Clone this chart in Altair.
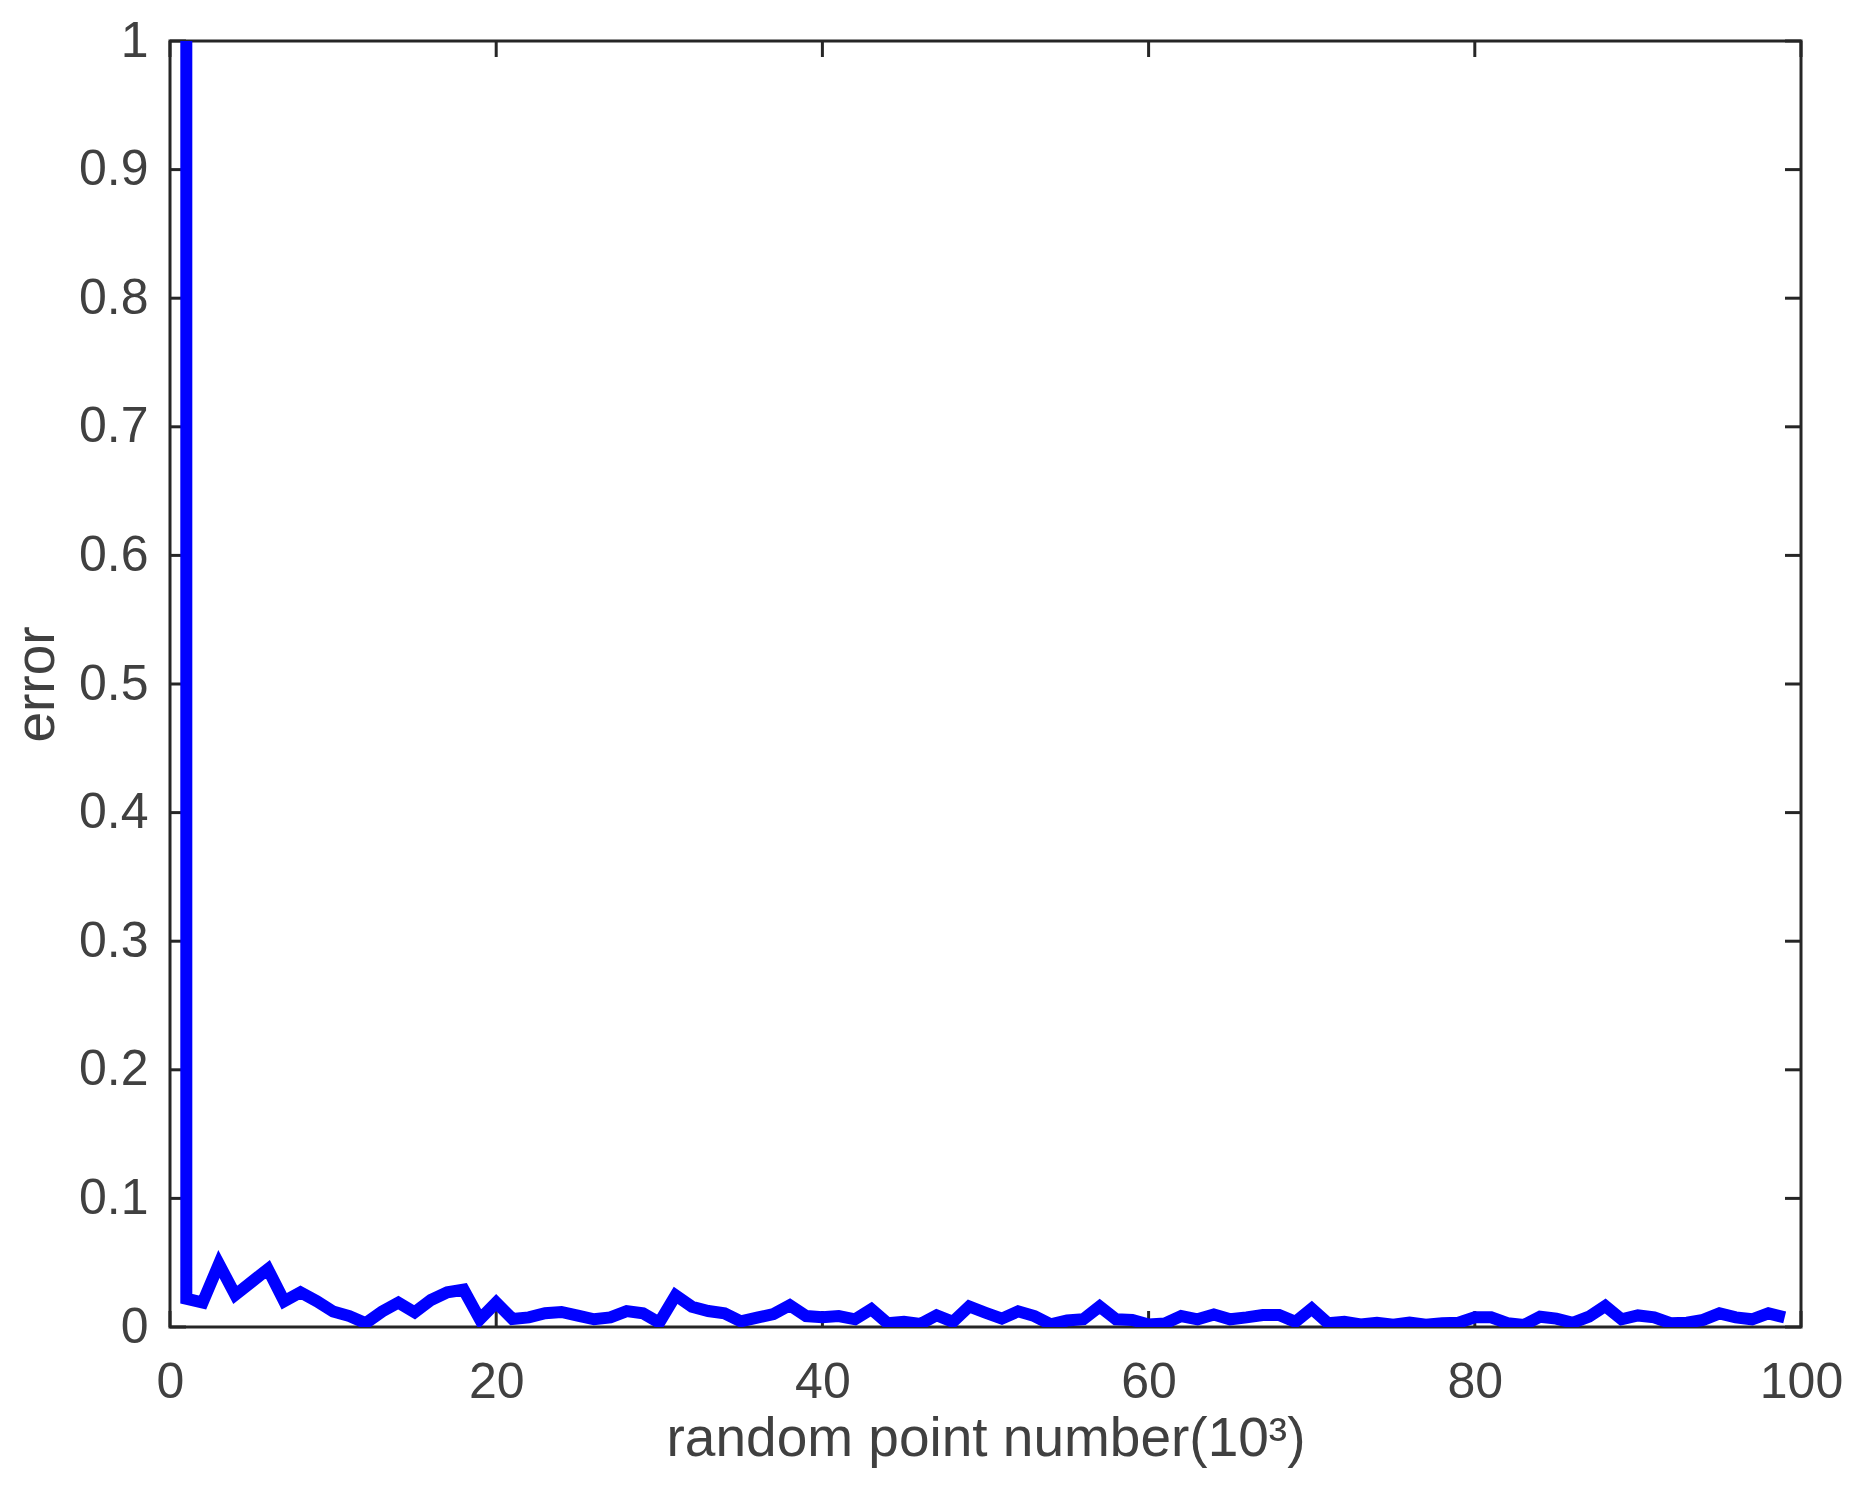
import altair as alt
import pandas as pd

# ---- data ----
x_points = [1, 1] + list(range(2, 100))
errors = [
    1.5,
    0.022, 0.019, 0.049, 0.025, 0.035, 0.045, 0.020, 0.027, 0.020, 0.012,
    0.0085, 0.003, 0.012, 0.019, 0.0114, 0.021, 0.027, 0.029, 0.006, 0.019,
    0.0062, 0.0075, 0.0107, 0.0117, 0.0088, 0.006, 0.0075, 0.0124, 0.0106, 0.0034,
    0.0246, 0.0158, 0.0124, 0.0106, 0.0044, 0.0073, 0.0101, 0.0169, 0.0085, 0.0075,
    0.0085, 0.006, 0.0138, 0.0029, 0.0041, 0.0023, 0.0091, 0.004, 0.016, 0.0111,
    0.0065, 0.0122, 0.0085, 0.002, 0.005, 0.006, 0.016, 0.006, 0.0055, 0.002,
    0.0028, 0.0085, 0.006, 0.0098, 0.006, 0.0075, 0.0093, 0.0093, 0.004, 0.0143,
    0.003, 0.004, 0.002, 0.0032, 0.0018, 0.0034, 0.0018, 0.003, 0.0033, 0.0075,
    0.0075, 0.003, 0.0015, 0.008, 0.0065, 0.0033, 0.008, 0.0163, 0.006, 0.009,
    0.0075, 0.003, 0.0034, 0.0055, 0.0106, 0.0075, 0.006, 0.0106, 0.0075,
]
x_ticks = [0, 20, 40, 60, 80, 100]
y_ticks = [0, 0.1, 0.2, 0.3, 0.4, 0.5, 0.6, 0.7, 0.8, 0.9, 1.0]

df = pd.DataFrame({"i": list(range(len(errors))), "x": x_points, "err": errors})
xt = pd.DataFrame({"x": x_ticks})
yt = pd.DataFrame({"err": y_ticks})

W, H, L = 1631, 1286, 16
AX = "#262626"
TXT = "#404040"
FONT = "Liberation Sans"

xscale = alt.Scale(domain=[0, 100], nice=False, zero=False)
yscale = alt.Scale(domain=[0, 1], nice=False)

xaxis = alt.Axis(values=x_ticks, title="random point number(10³)", domain=False, ticks=False,
                 grid=False, labelPadding=30, titlePadding=5, format="d", labelFlush=False)
yaxis = alt.Axis(values=y_ticks, title="error", domain=False, ticks=False, grid=False,
                 labelPadding=22, titlePadding=13, format=".1~f", labelFlush=False)

line = alt.Chart(df).mark_line(color="#0000FF", strokeWidth=12, clip=True).encode(
    x=alt.X("x:Q", scale=xscale, axis=xaxis),
    y=alt.Y("err:Q", scale=yscale, axis=yaxis),
    order="i:Q",
)

bottom_ticks = alt.Chart(xt).mark_rule(color=AX, strokeWidth=3).encode(
    x=alt.X("x:Q", scale=xscale, axis=xaxis), y=alt.value(H), y2=alt.value(H - L))
top_ticks = alt.Chart(xt).mark_rule(color=AX, strokeWidth=3).encode(
    x=alt.X("x:Q", scale=xscale, axis=xaxis), y=alt.value(0), y2=alt.value(L))
left_ticks = alt.Chart(yt).mark_rule(color=AX, strokeWidth=3).encode(
    y=alt.Y("err:Q", scale=yscale, axis=yaxis), x=alt.value(0), x2=alt.value(L))
right_ticks = alt.Chart(yt).mark_rule(color=AX, strokeWidth=3).encode(
    y=alt.Y("err:Q", scale=yscale, axis=yaxis), x=alt.value(W), x2=alt.value(W - L))

chart = alt.layer(bottom_ticks, top_ticks, left_ticks, right_ticks, line).properties(
    width=W, height=H,
    background="white",
    autosize=alt.AutoSizeParams(type="none"),
    padding={"left": 162, "top": 33, "right": 50, "bottom": 170},
).configure_view(
    stroke=AX, strokeWidth=3, fill="white"
).configure_axis(
    labelFont=FONT, labelFontSize=50, labelColor=TXT,
    titleFont=FONT, titleFontSize=55, titleColor=TXT, titleFontWeight="normal",
)

chart.save("out.html", embed_options={"renderer": "svg", "actions": False})
